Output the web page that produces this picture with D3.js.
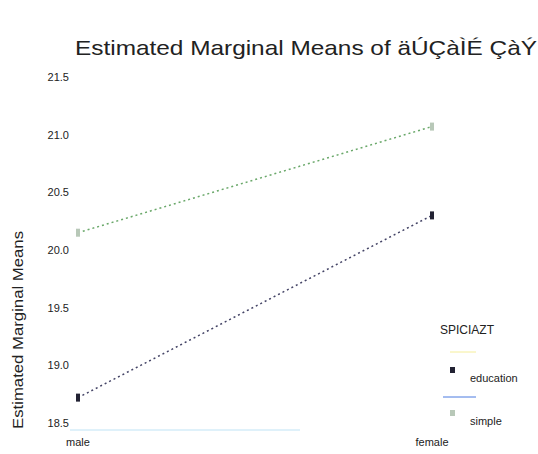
<!DOCTYPE html>
<html lang="en">
<head>
<meta charset="UTF-8">
<script src="https://d3js.org/d3.v7.min.js"></script>
<style>
  body { margin: 0; background: #fff; }
  text { font-family: "Liberation Sans", Arial, sans-serif; fill: #222; }
</style>
</head>
<body>
<svg id="chart" width="538" height="454"></svg>
<script>
// data
var groups = ["male", "female"];
var seriesNames = ["education", "simple"];
var education = [18.72, 20.30];
var simple = [20.15, 21.07];
var yTicks = [18.5, 19.0, 19.5, 20.0, 20.5, 21.0, 21.5];

var svg = d3.select("#chart");

var x = d3.scalePoint().domain(groups).range([78, 432]);
var y = d3.scaleLinear().domain([18.5, 21.5]).range([423, 77]);

// title
svg.append("text")
    .attr("x", 75).attr("y", 55)
    .attr("textLength", 462)
    .attr("lengthAdjust", "spacingAndGlyphs")
    .style("font-size", "21px")
    .text("Estimated Marginal Means of äÚÇàÌÉ ÇàÝ");

// y axis label
svg.append("text")
    .attr("transform", "translate(23,330) rotate(-90)")
    .attr("text-anchor", "middle")
    .attr("textLength", 198)
    .attr("lengthAdjust", "spacingAndGlyphs")
    .style("font-size", "15px")
    .text("Estimated Marginal Means");

// y tick labels
svg.selectAll(".ytick")
    .data(yTicks)
    .enter().append("text")
    .attr("class", "ytick")
    .attr("x", 69)
    .attr("y", function(d) { return y(d) + 4; })
    .attr("text-anchor", "end")
    .style("font-size", "11px")
    .text(function(d) { return d3.format(".1f")(d); });

// faint x axis line
svg.append("line")
    .attr("x1", 70).attr("x2", 300)
    .attr("y1", 430).attr("y2", 430)
    .attr("stroke", "#bfe3f5").attr("stroke-width", 1);

// x labels
svg.selectAll(".xtick")
    .data(groups)
    .enter().append("text")
    .attr("class", "xtick")
    .attr("x", function(d) { return x(d); })
    .attr("y", 446)
    .attr("text-anchor", "middle")
    .style("font-size", "11px")
    .text(function(d) { return d; });

var series = [
    {name: seriesNames[0], values: education, line: "#444466", marker: "#222233"},
    {name: seriesNames[1], values: simple, line: "#6aa86a", marker: "#b8c8b8"}
];

var line = d3.line()
    .x(function(d, i) { return x(groups[i]); })
    .y(function(d) { return y(d); });

series.forEach(function(s) {
    svg.append("path")
        .datum(s.values)
        .attr("d", line)
        .attr("fill", "none")
        .attr("stroke", s.line)
        .attr("stroke-width", 1.5)
        .attr("stroke-dasharray", "2,3");
    svg.selectAll(null)
        .data(s.values)
        .enter().append("rect")
        .attr("x", function(d, i) { return x(groups[i]) - 2; })
        .attr("y", function(d) { return y(d) - 4; })
        .attr("width", 4).attr("height", 8)
        .attr("fill", s.marker);
});

// legend
svg.append("text")
    .attr("x", 440).attr("y", 334)
    .style("font-size", "12px")
    .text("SPICIAZT");
svg.append("line")
    .attr("x1", 450).attr("x2", 476).attr("y1", 352).attr("y2", 352)
    .attr("stroke", "#f5ee9a").attr("stroke-width", 1);
svg.append("line")
    .attr("x1", 443).attr("x2", 476).attr("y1", 397).attr("y2", 397)
    .attr("stroke", "#4a7ae0").attr("stroke-width", 1);

var leg = svg.selectAll(".leg")
    .data(series)
    .enter().append("g")
    .attr("class", "leg")
    .attr("transform", function(d, i) { return "translate(450," + (370 + i * 43) + ")"; });
leg.append("rect")
    .attr("x", 0).attr("y", -3).attr("width", 5).attr("height", 6)
    .attr("fill", function(d) { return d.marker; });
leg.append("text")
    .attr("x", 20).attr("y", 12)
    .style("font-size", "11px")
    .text(function(d) { return d.name; });
</script>
</body>
</html>
